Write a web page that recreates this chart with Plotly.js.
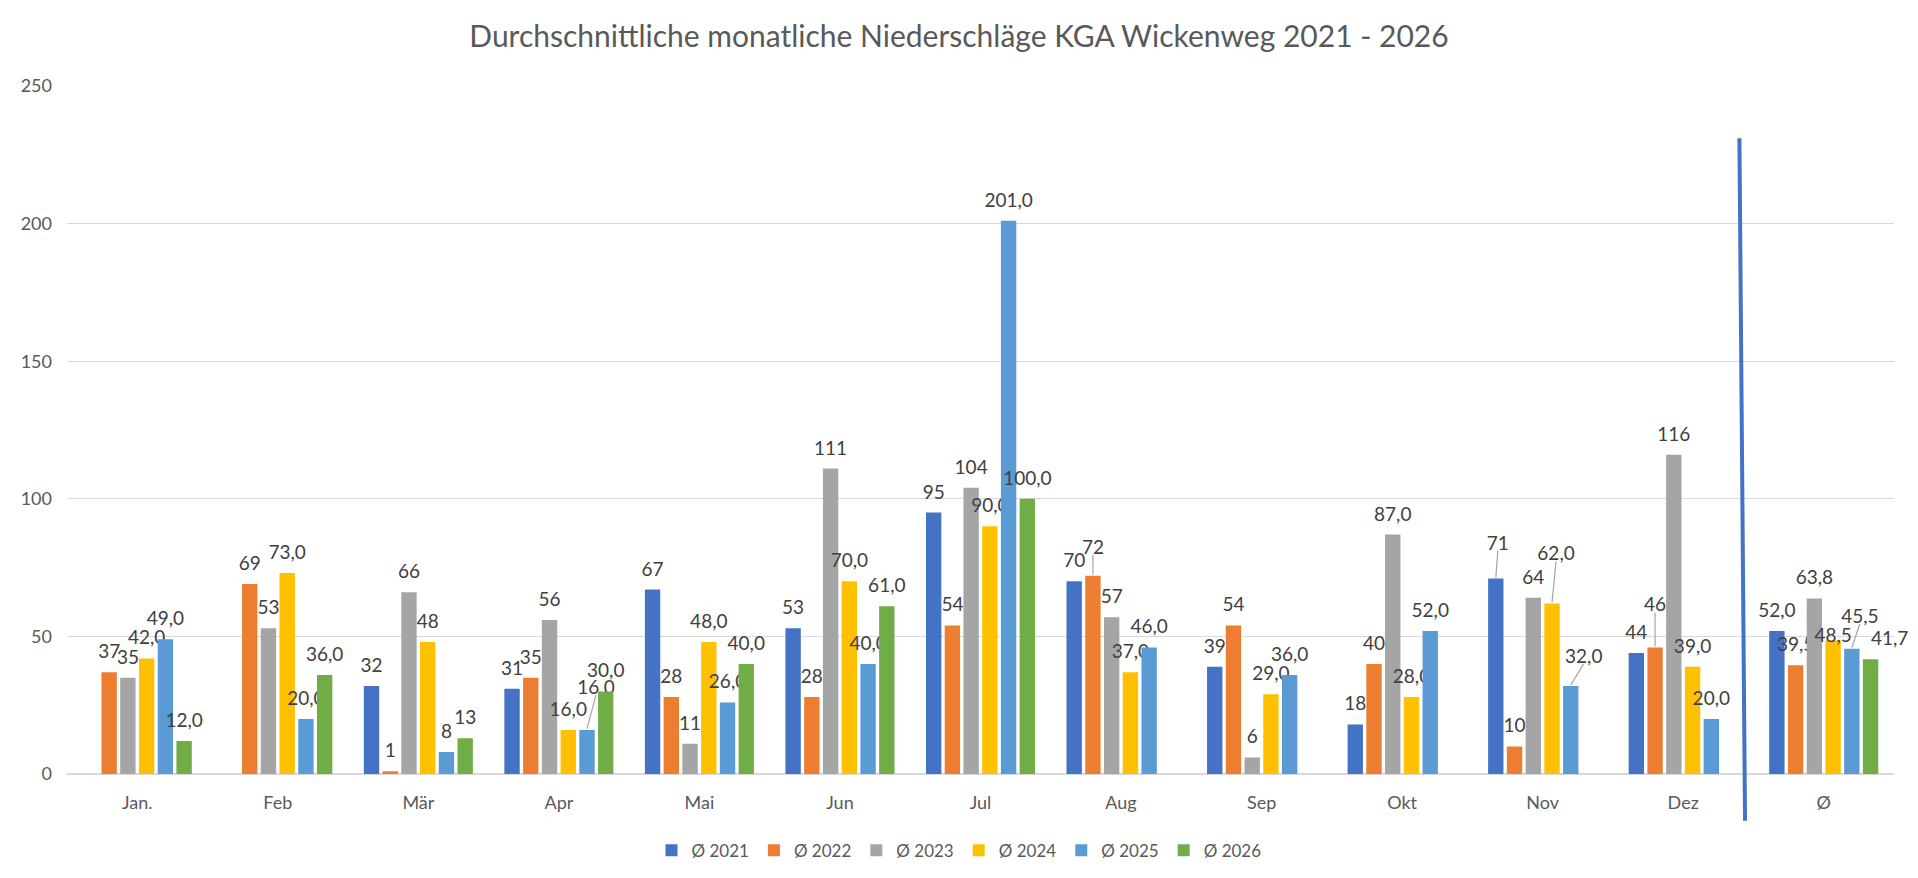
<!DOCTYPE html>
<html>
<head>
<meta charset="utf-8">
<script src="https://cdn.plot.ly/plotly-3.0.1.min.js"></script>
<style>
  html, body { margin: 0; padding: 0; background: #fff; }
  #chart { width: 1918px; height: 878px; }
</style>
</head>
<body>
<div id="chart"></div>
<script>
var months = ['Jan.', 'Feb', 'Mär', 'Apr', 'Mai', 'Jun', 'Jul', 'Aug', 'Sep', 'Okt', 'Nov', 'Dez', 'Ø'];

var y2021 = [null, null, 32, 31, 67, 53, 95, 70, 39, 18, 71, 44, 52.0];
var y2022 = [37, 69, 1, 35, 28, 28, 54, 72, 54, 40, 10, 46, 39.5];
var y2023 = [35, 53, 66, 56, 11, 111, 104, 57, 6, 87, 64, 116, 63.8];
var y2024 = [42, 73, 48, 16, 48, 70, 90, 37, 29, 28, 62, 39, 48.5];
var y2025 = [49, 20, 8, 16, 26, 40, 201, 46, 36, 52, 32, 20, 45.5];
var y2026 = [12, 36, 13, 30, 40, 61, 100, null, null, null, null, null, 41.7];

// decimals shown in the data labels (as in the workbook)
var dec2021 = [0, 0, 0, 0, 0, 0, 0, 0, 0, 0, 0, 0, 1];
var dec2022 = [0, 0, 0, 0, 0, 0, 0, 0, 0, 0, 0, 0, 1];
var dec2023 = [0, 0, 0, 0, 0, 0, 0, 0, 0, 1, 0, 0, 1];
var dec2024 = [1, 1, 0, 1, 1, 1, 1, 1, 1, 1, 1, 1, 1];
var dec2025 = [1, 1, 0, 1, 1, 1, 1, 1, 1, 1, 1, 1, 1];
var dec2026 = [1, 1, 0, 1, 1, 1, 1, 1, 1, 1, 1, 1, 1];

var seriesNames = ['Ø 2021', 'Ø 2022', 'Ø 2023', 'Ø 2024', 'Ø 2025', 'Ø 2026'];
var colors = ['#4472C4', '#ED7D31', '#A5A5A5', '#FFC000', '#5B9BD5', '#70AD47'];

// labels that were dragged aside in the workbook:
// [series, month, dx, dy, leader line] in px
var labelNudge = [
    [4, 3, 9, -22, 1],
    [3, 10, 4, -29, 1],
    [0, 10, 2, -15, 1],
    [1, 11, 0, -22, 1],
    [4, 10, 13, -9, 1],
    [4, 12, 8, -12, 1],
    [3, 12, 0, 15, 0],
    [5, 12, 19, 0, 0],
    [1, 7, 0, -8, 1]
];

var FONT = 'Lato, "Open Sans", sans-serif';

function labels(vals, dec) {
    return vals.map(function (v, i) {
        if (v === null) return '';
        return v.toFixed(dec[i]).replace('.', ',');
    });
}

function makeTrace(vals, dec, name, color) {
    return {
        x: months,
        y: vals,
        name: name,
        type: 'bar',
        marker: {color: color},
        text: labels(vals, dec),
        textposition: 'outside',
        constraintext: 'none',
        cliponaxis: false,
        textfont: {family: FONT, size: 19, color: '#404040'},
        hoverinfo: 'x+y+name'
    };
}

var data = [
    makeTrace(y2021, dec2021, seriesNames[0], colors[0]),
    makeTrace(y2022, dec2022, seriesNames[1], colors[1]),
    makeTrace(y2023, dec2023, seriesNames[2], colors[2]),
    makeTrace(y2024, dec2024, seriesNames[3], colors[3]),
    makeTrace(y2025, dec2025, seriesNames[4], colors[4]),
    makeTrace(y2026, dec2026, seriesNames[5], colors[5])
];

var layout = {
    width: 1918,
    height: 878,
    paper_bgcolor: '#ffffff',
    plot_bgcolor: '#ffffff',
    font: {family: FONT, color: '#595959'},
    title: {
        text: 'Durchschnittliche monatliche Niederschläge KGA Wickenweg 2021 - 2026',
        font: {family: FONT, size: 30, color: '#595959'},
        x: 0.5,
        xref: 'container',
        xanchor: 'center',
        yref: 'container',
        y: 0.958,
        yanchor: 'middle'
    },
    margin: {l: 67, r: 24, t: 86, b: 104},
    barmode: 'group',
    bargap: 0.2,
    bargroupgap: 0.18,
    xaxis: {
        type: 'category',
        tickfont: {family: FONT, size: 18, color: '#595959'},
        showgrid: false,
        showline: false,
        ticks: '',
        ticklabelstandoff: 16
    },
    yaxis: {
        range: [0, 250],
        dtick: 50,
        tickfont: {family: FONT, size: 18, color: '#595959'},
        showgrid: true,
        gridcolor: '#d9d9d9',
        gridwidth: 1.3,
        zeroline: true,
        zerolinecolor: '#d9d9d9',
        zerolinewidth: 1.8,
        showline: false,
        ticks: '',
        ticklabelstandoff: 14,
        fixedrange: true
    },
    legend: {
        orientation: 'h',
        x: 0.5,
        xref: 'container',
        xanchor: 'center',
        yref: 'container',
        y: 0.031,
        yanchor: 'middle',
        font: {family: FONT, size: 17, color: '#595959'},
        itemwidth: 30,
        traceorder: 'normal'
    },
    shapes: [{
        type: 'line',
        xref: 'x',
        yref: 'paper',
        x0: 11.44, x1: 11.40,
        y0: -0.068, y1: 0.924,
        line: {color: '#4472C4', width: 4}
    }]
};

function shiftLabels() {
    var svg = document.querySelector('#chart .main-svg');
    var svgBox = svg.getBoundingClientRect();
    var leaders = [];
    document.querySelectorAll('#chart .barlayer .trace').forEach(function (tr) {
        var cd = tr.__data__;
        var ti = cd[0].trace.index;
        tr.querySelectorAll('.point').forEach(function (pt) {
            var txt = pt.querySelector('text');
            if (!txt) return;
            var i = cd.indexOf(pt.__data__);
            var dx = 0, dy = -7, leader = false;   // Excel keeps its labels a bit higher
            labelNudge.forEach(function (n) {
                if (n[0] === ti && n[1] === i) { dx += n[2]; dy += n[3]; leader = n[4] === 1; }
            });
            var old = txt.getAttribute('transform') || '';
            txt.setAttribute('transform', 'translate(' + dx + ',' + dy + ') ' + old);
            if (leader) leaders.push([txt, pt.querySelector('path')]);
        });
    });
    // thin grey leader lines from moved labels to their bars
    var g = document.createElementNS('http://www.w3.org/2000/svg', 'g');
    leaders.forEach(function (pair) {
        var t = pair[0].getBoundingClientRect();
        var b = pair[1].getBoundingClientRect();
        var ln = document.createElementNS('http://www.w3.org/2000/svg', 'line');
        ln.setAttribute('x1', t.left + t.width / 2 - svgBox.left);
        ln.setAttribute('y1', t.bottom - 3 - svgBox.top);
        ln.setAttribute('x2', b.left + b.width / 2 - svgBox.left);
        ln.setAttribute('y2', b.top - 1 - svgBox.top);
        ln.setAttribute('stroke', '#a6a6a6');
        ln.setAttribute('stroke-width', '1.2');
        g.appendChild(ln);
    });
    svg.appendChild(g);
}

var config = {responsive: false, displayModeBar: false};
Plotly.newPlot('chart', data, layout, config).then(shiftLabels);
</script>
</body>
</html>
